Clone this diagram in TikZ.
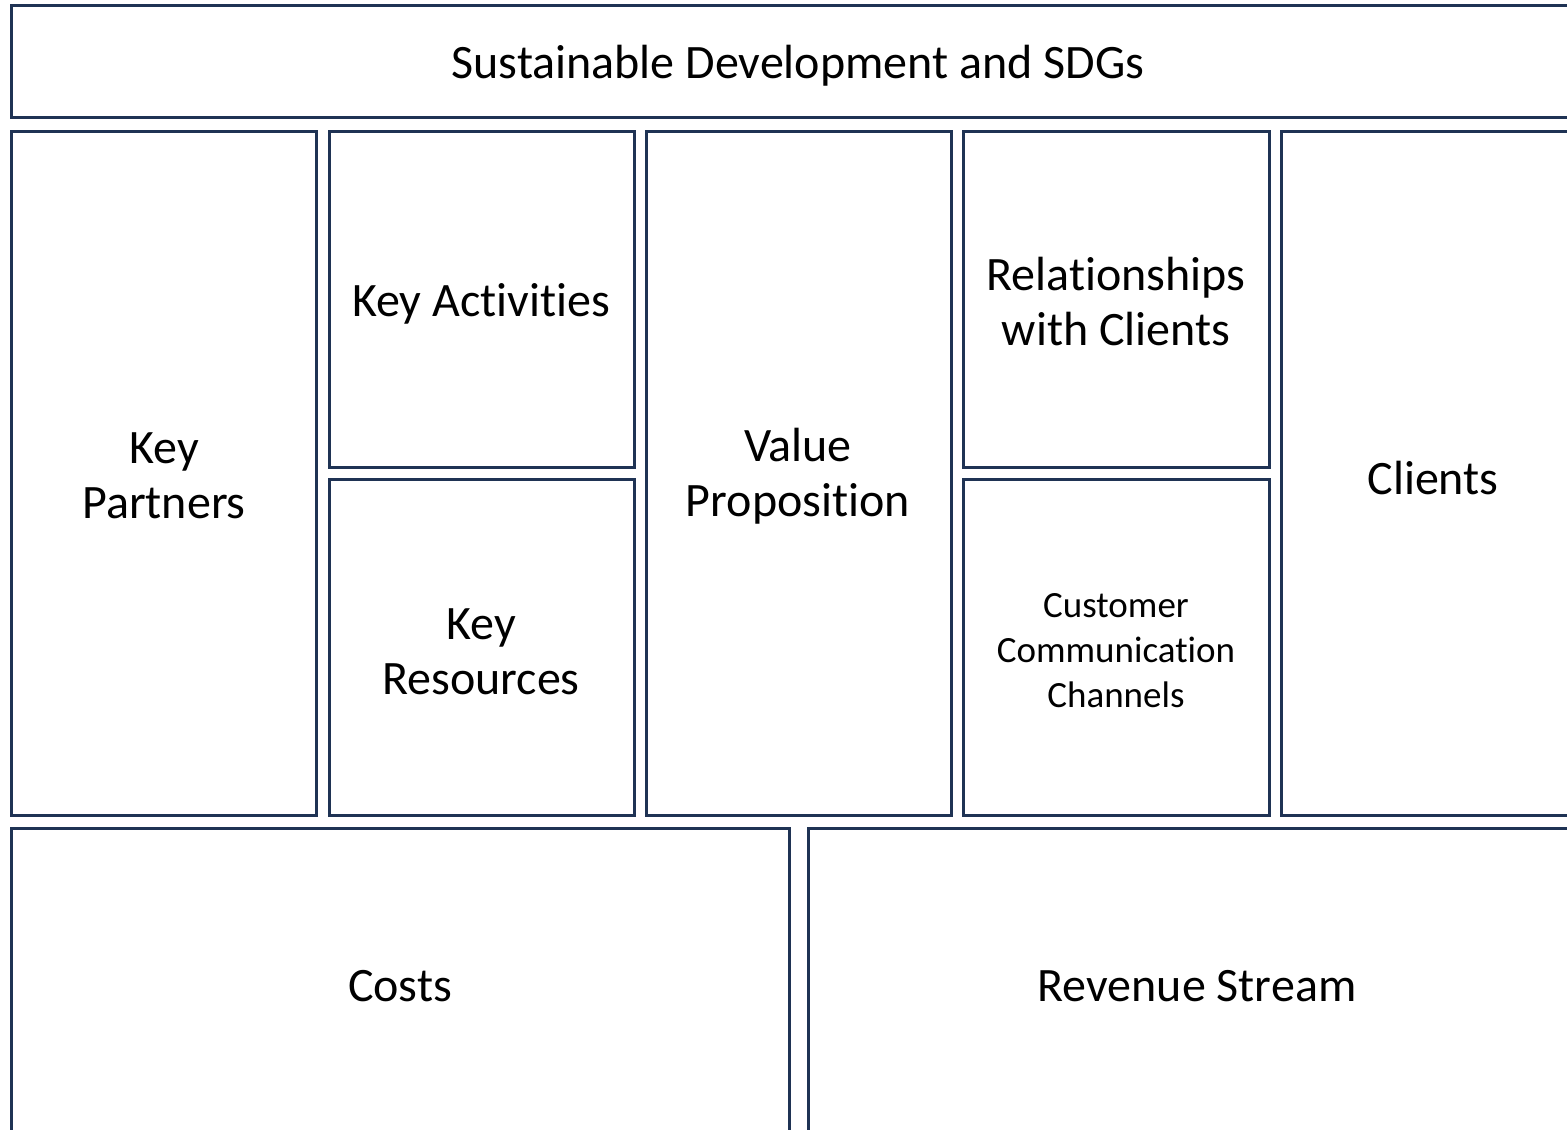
\documentclass[tikz,border=0pt]{standalone}
\usepackage{fontspec}
\setmainfont{Carlito}[Ligatures={NoCommon}]
\definecolor{navy}{HTML}{1F3354}
\begin{document}
\begin{tikzpicture}[x=1pt,y=-1pt,
  box/.style={draw=navy, line width=3pt, fill=white},
  lbl/.style={align=center, font=\fontsize{48}{55}\selectfont, text=black},
  slbl/.style={align=center, font=\fontsize{37}{45}\selectfont, text=black}]
\useasboundingbox (0,0) rectangle (1567,1130);
\clip (0,0) rectangle (1567,1130);
\draw[box] (11,5) rectangle (1586,117);
\draw[box] (11,131) rectangle (316,815);
\draw[box] (329,131) rectangle (634,467);
\draw[box] (329,479) rectangle (634,815);
\draw[box] (646,131) rectangle (951,815);
\draw[box] (963,131) rectangle (1269,467);
\draw[box] (963,479) rectangle (1269,815);
\draw[box] (1281,131) rectangle (1586,815);
\draw[box] (11,828) rectangle (789,1138);
\draw[box] (808,828) rectangle (1586,1138);
\node[lbl] (sdg) at (798,66) {Sustainable Development and SDGs};
\node[lbl] (kp) at (164,476) {Key\\Partners};
\node[lbl] (ka) at (481,304) {Key Activities};
\node[lbl] (kr) at (481,652) {Key\\Resources};
\node[lbl] (vp) at (798,476) {Value\\Proposition};
\node[lbl] (rc) at (1116,302) {Relationships\\with Clients};
\node[slbl] (cc) at (1116,651) {Customer\\Communication\\Channels};
\node[lbl] (cl) at (1433,478) {Clients};
\node[lbl] (co) at (400,986) {Costs};
\node[lbl] (rv) at (1197,986) {Revenue Stream};
\end{tikzpicture}
\end{document}
